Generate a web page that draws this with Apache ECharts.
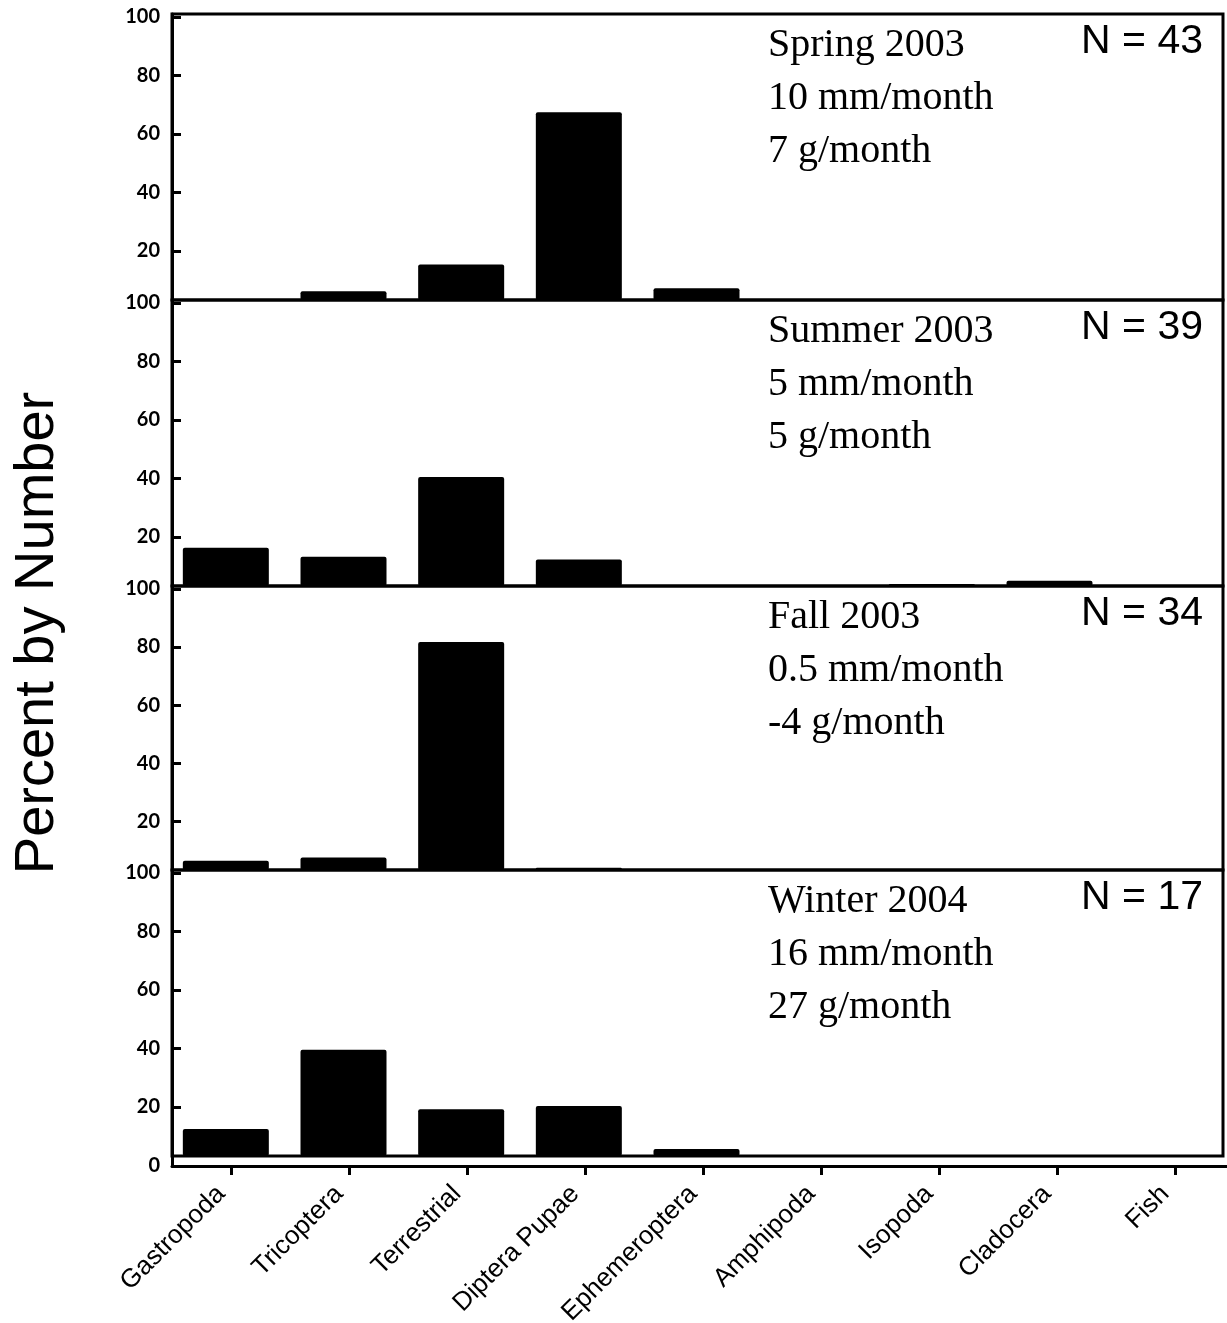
<!DOCTYPE html>
<html>
<head>
<meta charset="utf-8">
<title>Percent by Number</title>
<script src="https://cdn.jsdelivr.net/npm/echarts@6/dist/echarts.min.js"></script>
<style>
  html, body { margin: 0; padding: 0; background: #fff; }
  #chart { width: 1227px; height: 1323px; }
</style>
</head>
<body>
<div id="chart"></div>
<script>
// Prey categories shared by every season panel
const categories = ['Gastropoda', 'Tricoptera', 'Terrestrial', 'Diptera Pupae', 'Ephemeroptera',
  'Amphipoda', 'Isopoda', 'Cladocera', 'Fish'];

// Percent by number of each prey category, per season
const spring2003 = [0, 6.2, 15.3, 67.4, 7.2, 0, 0, 0, 0];
const summer2003 = [16.3, 13.2, 40.5, 12.3, 0, 0, 3.9, 5.0, 0];
const fall2003 = [6.4, 7.5, 81.7, 4.0, 0, 0, 0, 0, 0];
const winter2004 = [12.4, 39.5, 19.2, 20.3, 5.6, 0, 0, 0, 0];

// Panel captions
const seasonNames = ['Spring 2003', 'Summer 2003', 'Fall 2003', 'Winter 2004'];
const lengthRates = ['10 mm/month', '5 mm/month', '0.5 mm/month', '16 mm/month'];
const massRates = ['7 g/month', '5 g/month', '-4 g/month', '27 g/month'];
const sampleSizes = [43, 39, 34, 17];

// Y tick labels
const yTicks = [20, 40, 60, 80, 100];
const yTitle = 'Percent by Number';

const seasons = [spring2003, summer2003, fall2003, winter2004];

// ---- layout ----
const panelEdges = [14, 300, 586, 870, 1156];   // box top/bottom lines
const boxLeft = 172, boxWidth = 1051;
const barLeft = 167, barAreaWidth = 1059;
const yMin = 3.2, yMax = 101;                    // visible value range inside each box
const axisBottom = 1166;
const ink = '#000';
const tickFont = { fontFamily: 'Lato', fontWeight: 700, fontSize: 20, color: ink };

const grid = [], xAxis = [], yAxis = [], series = [], graphic = [];

seasons.forEach((values, i) => {
  const top = panelEdges[i];
  const height = panelEdges[i + 1] - panelEdges[i];

  // box with the left value axis
  grid.push({ left: boxLeft, width: boxWidth, top: top, height: height, show: true,
    borderColor: ink, borderWidth: 3, backgroundColor: 'transparent',
    containLabel: false, outerBoundsMode: 'none' });
  const boxIdx = grid.length - 1;
  xAxis.push({ type: 'category', data: categories, gridIndex: boxIdx, show: false });
  yAxis.push({ type: 'value', gridIndex: boxIdx, min: yMin, max: yMax,
    axisLine: { show: true, lineStyle: { color: ink, width: 3 } },
    axisTick: { show: true, inside: true, length: 9, customValues: yTicks, lineStyle: { color: ink, width: 3 } },
    axisLabel: Object.assign({ margin: 12, customValues: yTicks }, tickFont),
    splitLine: { show: false } });

  // bars
  grid.push({ left: barLeft, width: barAreaWidth, top: top, height: height,
    containLabel: false, outerBoundsMode: 'none' });
  const barIdx = grid.length - 1;
  xAxis.push({ type: 'category', data: categories, gridIndex: barIdx, show: false });
  yAxis.push({ type: 'value', gridIndex: barIdx, min: yMin, max: yMax, show: false, splitLine: { show: false } });
  series.push({ type: 'bar', name: seasonNames[i], xAxisIndex: xAxis.length - 1, yAxisIndex: yAxis.length - 1,
    data: values, barWidth: 86, clip: true, silent: true,
    itemStyle: { color: ink, borderRadius: 2 } });

  // captions
  const serif = { fontFamily: 'Liberation Serif', fontSize: 40, fill: ink, align: 'left', verticalAlign: 'middle' };
  [seasonNames[i], lengthRates[i], massRates[i]].forEach((txt, k) => {
    graphic.push({ type: 'text', x: 768, y: top + 31 + k * 53, style: Object.assign({ text: txt }, serif) });
  });
  graphic.push({ type: 'text', x: 1203, y: top + 28,
    style: { text: 'N = ' + sampleSizes[i], fontFamily: 'Liberation Sans', fontSize: 41, fill: ink,
      align: 'right', verticalAlign: 'middle' } });
});

// shared category axis along the bottom
grid.push({ left: boxLeft, width: 1062, top: panelEdges[4], height: axisBottom - panelEdges[4],
  containLabel: false, outerBoundsMode: 'none' });
const axIdx = grid.length - 1;
xAxis.push({ type: 'category', data: categories, gridIndex: axIdx,
  axisLine: { show: true, lineStyle: { color: ink, width: 3 } },
  axisTick: { show: true, alignWithLabel: true, length: 9, lineStyle: { color: ink, width: 3 } },
  axisLabel: { rotate: 45, interval: 0, margin: 14, padding: [0, 14, 0, 0],
    fontFamily: 'Liberation Sans', fontSize: 26, color: ink } });
yAxis.push({ type: 'value', gridIndex: axIdx, min: 0, max: yMin,
  axisLine: { show: true, lineStyle: { color: ink, width: 3 } },
  axisTick: { show: false },
  axisLabel: Object.assign({ margin: 12, customValues: [0] }, tickFont),
  splitLine: { show: false } });

// y title
graphic.push({ type: 'text', x: 38, y: 633, rotation: Math.PI / 2,
  style: { text: yTitle, fontFamily: 'Liberation Sans', fontSize: 56, fill: ink, align: 'center', verticalAlign: 'middle' } });

const chart = echarts.init(document.getElementById('chart'), null, { renderer: 'canvas' });
chart.setOption({
  animation: false,
  backgroundColor: '#fff',
  grid, xAxis, yAxis, series, graphic
});
</script>
</body>
</html>
